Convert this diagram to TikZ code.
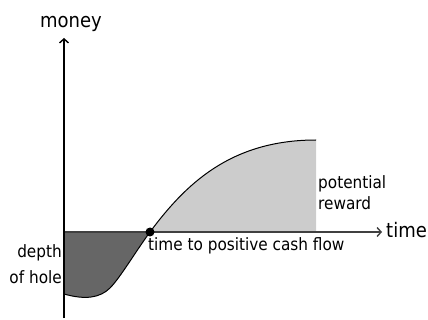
\documentclass[tikz,border=0pt]{standalone}
\usepackage{fontspec}
\setmainfont{DejaVu Sans Condensed}
\usetikzlibrary{arrows.meta}
\definecolor{holegray}{HTML}{666666}
\definecolor{rewardgray}{HTML}{CCCCCC}
\begin{document}
\begin{tikzpicture}[x=1pt,y=-1pt,
  axis/.style={line width=1.4pt,-{Straight Barb[length=4pt,width=9pt,line width=1.4pt]}},
  biglabel/.style={font=\fontsize{20}{24}\selectfont,inner sep=0pt},
  smalllabel/.style={font=\fontsize{17}{21}\selectfont,inner sep=0pt}]
\useasboundingbox (0,0) rectangle (428,320);
% fills
\fill[holegray] (64,232) -- (64,294) .. controls (85,300) and (100,298) .. (110,288)
  .. controls (120,278) and (136,251) .. (150,232) -- cycle;
\fill[rewardgray] (150,232) .. controls (185,185) and (230,140) .. (316,140) -- (316,232) -- cycle;
% curve
\draw[line width=1pt] (64,294) .. controls (85,300) and (100,298) .. (110,288)
  .. controls (120,278) and (136,251) .. (150,232)
  .. controls (185,185) and (230,140) .. (316,140);
% axes
\coordinate (origin) at (64,232);
\coordinate (ybot) at (64,318);
\coordinate (ytop) at (64,38);
\coordinate (xend) at (382,232);
\draw[axis,black!75] (origin) -- (xend);
\draw[axis] (ybot) -- (ytop);
\fill (150,232) circle (4.5pt);
% labels
\node[biglabel,anchor=base] (money) at (71,28) {money};
\node[biglabel,anchor=base west] (time) at (386,238) {time};
\node[smalllabel,anchor=base west] (ttp) at (148,251) {time to positive cash flow};
\node[smalllabel,anchor=north east,align=right] (depth) at (62,244) {depth\\[5.7pt]of hole};
\node[smalllabel,anchor=north west,align=left] (reward) at (318,175) {potential\\reward};
\end{tikzpicture}
\end{document}
